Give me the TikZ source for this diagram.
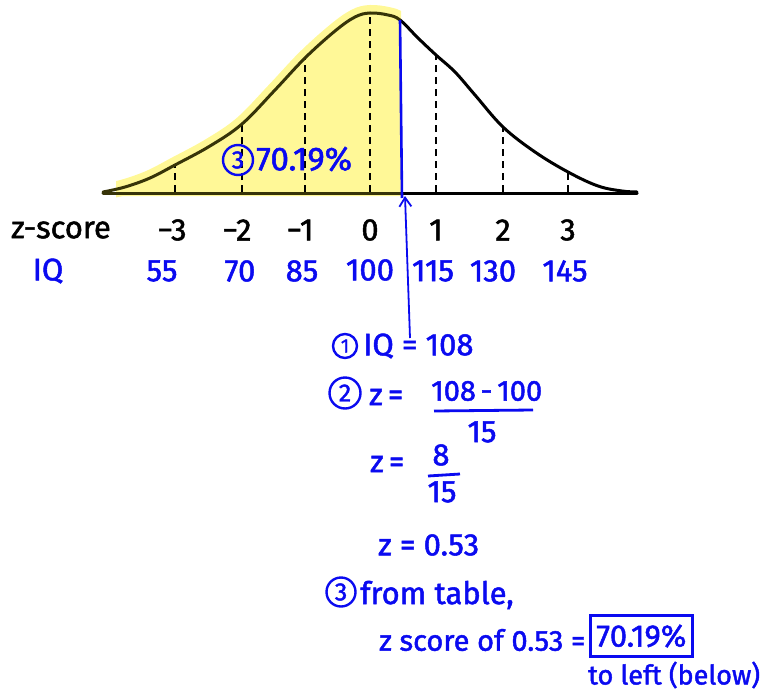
\documentclass[tikz,border=0pt]{standalone}
\usepackage{fontspec}
\setmainfont{Fira Sans}[FakeBold=1.6]
\usetikzlibrary{arrows.meta}
\definecolor{pen}{RGB}{10,10,240}
\definecolor{hl}{RGB}{255,245,95}
\definecolor{oliveink}{RGB}{55,52,8}
\begin{document}
\begin{tikzpicture}[x=1pt,y=-1pt,
  hw/.style={inner sep=0pt, font=\fontsize{31}{33}\selectfont},
  bl/.style={hw, text=pen},
  circ/.style={draw=pen, circle, line width=2.4pt, inner sep=0pt, text=pen, font=\fontsize{25}{25}\selectfont, minimum size=28pt},
  dashline/.style={black, line width=1.8pt, dash pattern=on 7pt off 5pt},
  curveline/.style={line width=3pt, line cap=round, line join=round}]
\useasboundingbox (0,0) rectangle (770,693);
\def\curvepts{(103,192) (125,187) (150,178) (175,165) (210,146) (242,124) (275,90) (305,58) (335,31) (355,17) (370,13) (388,15) (400,20) (418,38) (436,55) (455,72) (475,95) (503,127) (535,152) (568,172) (598,186) (622,191) (637,192)}
% highlight
\begin{scope}[transparency group, opacity=0.65]
  \clip (116,0) rectangle (401,205);
  \fill[hl] plot[smooth, tension=0.6] coordinates {\curvepts} -- (637,196) -- (100,196) -- cycle;
  \draw[hl, line width=16pt, line cap=round] plot[smooth, tension=0.6] coordinates {\curvepts};
\end{scope}
% dashed lines
\draw[dashline] (175,192) -- (175,165);
\draw[dashline] (242,192) -- (242,124);
\draw[dashline] (305,192) -- (305,58);
\draw[dashline] (370,192) -- (370,13);
\draw[dashline] (436,192) -- (436,55);
\draw[dashline] (503,192) -- (503,127);
\draw[dashline] (568,192) -- (568,172);
% curve
\begin{scope}
  \clip (0,0) rectangle (401,210);
  \draw[curveline, oliveink] plot[smooth, tension=0.6] coordinates {\curvepts};
  \draw[curveline, oliveink] (103,193) -- (401,193);
\end{scope}
\begin{scope}
  \clip (401,0) rectangle (770,210);
  \draw[curveline, black] plot[smooth, tension=0.6] coordinates {\curvepts};
  \draw[curveline, black] (401,193) -- (637,193);
\end{scope}
% blue marker
\draw[pen, line width=2.6pt] (400,20) -- (402,198);
% z row
\node[hw] (zs) at (61,230) {z-score};
\node[hw] (zm3) at (172,230) {−3};
\node[hw] (zm2) at (237,230) {−2};
\node[hw] (zm1) at (300,230) {−1};
\node[hw] (z0) at (370,230) {0};
\node[hw] (z1) at (436,230) {1};
\node[hw] (z2) at (503,230) {2};
\node[hw] (z3) at (568,230) {3};
% IQ row
\node[bl] (iq) at (48,271) {IQ};
\node[bl] (q55) at (162,271) {55};
\node[bl] (q70) at (240,271) {70};
\node[bl] (q85) at (302,271) {85};
\node[bl] (q100) at (370,270) {100};
\node[bl] (q115) at (433,271) {115};
\node[bl] (q130) at (493,271) {130};
\node[bl] (q145) at (565,271) {145};
% label inside curve
\node[circ, minimum size=30pt] (c3a) at (238,160) {3};
\node[bl, font=\fontsize{33}{35}\selectfont, anchor=west] (pct1) at (256,159) {70.19\%};
% arrow
\coordinate (arrtop) at (405,196);
\coordinate (arrbot) at (410,338);
\draw[pen, line width=1.8pt, -{Straight Barb[length=9pt,width=12pt]}] (arrbot) -- (arrtop);
% steps
\node[circ, minimum size=24pt, font=\fontsize{19}{19}\selectfont] (c1) at (345,346) {1};
\node[bl, anchor=west] (s1) at (363,346) {IQ = 108};
\node[circ, minimum size=31pt] (c2) at (345,393) {2};
\node[bl, anchor=west] (s2a) at (369,397) {z\,=};
\node[bl, anchor=west, font=\fontsize{29}{31}\selectfont] (s2b) at (431,391) {108\,-\,100};
\draw[pen, line width=2.8pt] (434,411) -- (533,410);
\node[bl] (s2c) at (482,432) {15};
\node[bl, anchor=west] (s3a) at (370,464) {z\,=};
\node[bl] (s3b) at (441,455) {8};
\draw[pen, line width=2.8pt] (428,476) -- (460,474);
\node[bl] (s3c) at (442,492) {15};
\node[bl, anchor=west] (s4) at (378,545) {z = 0.53};
\node[circ, minimum size=29pt] (c3b) at (341,592) {3};
\node[bl, anchor=west] (s5) at (360,595) {from table,};
\node[bl, anchor=west, font=\fontsize{29}{31}\selectfont] (s6) at (379,640) {z score of 0.53 =};
\node[bl, draw=pen, line width=2.8pt, inner xsep=6pt, inner ysep=9pt, anchor=west] (box) at (589,636) {70.19\%};
\node[bl, anchor=west, font=\fontsize{27}{29}\selectfont] (s7) at (588,675) {to left (below)};
\end{tikzpicture}
\end{document}
